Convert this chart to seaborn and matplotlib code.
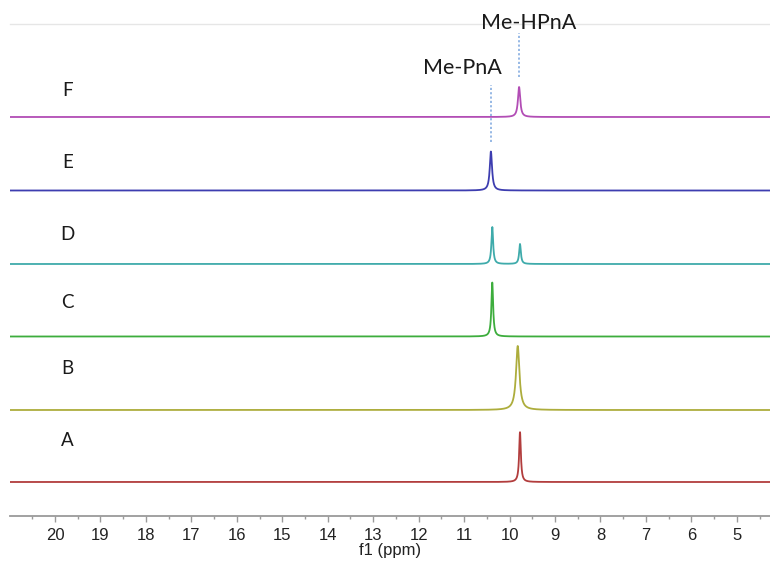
import matplotlib
matplotlib.use("Agg")
import matplotlib.pyplot as plt
from matplotlib.ticker import MultipleLocator
import numpy as np
import pandas as pd
import seaborn as sns

# spectra, bottom to top
samples = ["A", "B", "C", "D", "E", "F"]
colors = ["#b23d3d", "#adad3c", "#3dad3d", "#3fabab", "#3d3db0", "#b24db5"]
offsets = [34, 106, 179.5, 252, 325.5, 399]          # baseline of each trace
label_y = [75, 148, 213, 281, 353, 426]               # letter position

# peaks per sample: (shift ppm, height, fwhm ppm)
peaks = {
    "A": [(9.77, 50, 0.045)],
    "B": [(9.82, 64, 0.09)],
    "C": [(10.38, 54, 0.045)],
    "D": [(10.38, 37, 0.045), (9.77, 20, 0.045)],
    "E": [(10.41, 39, 0.06)],
    "F": [(9.79, 30, 0.06)],
}

markers = ["Me-PnA", "Me-HPnA"]
marker_ppm = [10.41, 9.79]
marker_text_y = [448, 493]
marker_line = [(374, 431), (439, 483)]

ppm = np.linspace(21.2, 4.0, 6000)
rows = []
for s, off in zip(samples, offsets):
    y = np.full_like(ppm, off, dtype=float)
    for c, h, w in peaks[s]:
        g = (w / 2) ** 2
        y += h * g / ((ppm - c) ** 2 + g)
    rows.append(pd.DataFrame({"ppm": ppm, "intensity": y, "sample": s}))
df = pd.concat(rows, ignore_index=True)

sns.set_style("white")
plt.rcParams["font.family"] = ["Liberation Sans", "DejaVu Sans"]

fig = plt.figure(figsize=(7.7, 5.63), dpi=100)
ax = fig.add_axes([10 / 770, 47 / 563, 760 / 770, 492 / 563])

sns.lineplot(data=df, x="ppm", y="intensity", hue="sample", palette=colors,
             hue_order=samples, estimator=None, sort=False, linewidth=1.3,
             legend=False, ax=ax)

for s, ly in zip(samples, label_y):
    ax.text(19.72, ly, s, ha="center", va="center", fontsize=13.5,
            family=["Lato", "DejaVu Sans"], color="#1a1a1a")

for name, x, ty, (y0, y1) in zip(markers, marker_ppm, marker_text_y, marker_line):
    ax.plot([x, x], [y0, y1], linestyle=(0, (1.2, 1.2)), color="#8fb3e3", linewidth=1.3)
    ax.text(x - 0.22 if name == "Me-HPnA" else x + 0.63, ty, name, ha="center",
            va="center", fontsize=15.5, family=["Lato", "DejaVu Sans"], color="#1a1a1a")

ax.set_xlim(20.99, 4.27)
ax.set_ylim(0, 492)
ax.set_yticks([])
ax.set_ylabel("")
ax.set_xlabel("f1 (ppm)", fontsize=12, color="#222222", labelpad=0)

for side in ["left", "right"]:
    ax.spines[side].set_visible(False)
ax.spines["top"].set_color("#e6e6e6")
ax.spines["top"].set_linewidth(1.0)
ax.spines["bottom"].set_color("#9a9a9a")
ax.spines["bottom"].set_linewidth(1.3)

ax.xaxis.set_major_locator(MultipleLocator(1))
ax.xaxis.set_minor_locator(MultipleLocator(0.5))
ax.tick_params(axis="x", which="major", direction="out", length=4, width=1,
               color="#9a9a9a", labelsize=12, labelcolor="#222222", pad=5,
               bottom=True)
ax.tick_params(axis="x", which="minor", direction="out", length=2, width=1,
               color="#9a9a9a", bottom=True)
ax.set_xticks(np.arange(5, 21))

fig.savefig("out.png", dpi=100, facecolor="white")
